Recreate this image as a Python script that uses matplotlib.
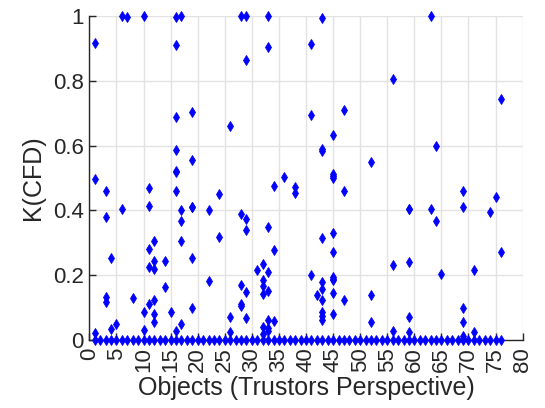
import numpy as np
import matplotlib.pyplot as plt

plt.rcParams['font.family'] = ['Liberation Sans', 'DejaVu Sans']

# objects with a non-zero K(CFD) value, paired with their values
objs = [1, 1, 1,
        3, 3, 3, 3,
        4, 4,
        5,
        6, 6,
        7,
        8,
        10, 10, 10,
        11, 11, 11, 11, 11,
        12, 12, 12, 12, 12, 12,
        14, 14,
        15,
        16, 16, 16, 16, 16, 16, 16, 16,
        17, 17, 17, 17, 17,
        19, 19, 19, 19, 19, 19,
        22, 22,
        24, 24,
        26, 26, 26,
        28, 28, 28, 28, 28,
        29, 29, 29, 29, 29, 29,
        31,
        32, 32, 32, 32, 32, 32,
        33, 33, 33, 33, 33, 33, 33, 33,
        34, 34, 34,
        36,
        38, 38,
        41, 41, 41,
        42,
        43, 43, 43, 43, 43, 43, 43, 43, 43, 43,
        45, 45, 45, 45, 45, 45, 45, 45, 45, 45, 45,
        47, 47, 47,
        52, 52, 52,
        56, 56, 56,
        59, 59, 59, 59, 59,
        63, 63,
        64, 64,
        65,
        69, 69, 69, 69, 69, 69,
        71, 71,
        74,
        75,
        76, 76]
kcfd = [0.917, 0.497, 0.023,
        0.461, 0.381, 0.133, 0.118,
        0.253, 0.034,
        0.049,
        1.0, 0.405,
        0.995,
        0.131,
        1.0, 0.086, 0.031,
        0.469, 0.413, 0.280, 0.227, 0.111,
        0.307, 0.244, 0.219, 0.125, 0.081, 0.056,
        0.243, 0.163,
        0.086,
        0.995, 0.910, 0.689, 0.585, 0.521, 0.519, 0.460, 0.029,
        1.0, 0.400, 0.367, 0.306, 0.049,
        0.702, 0.555, 0.411, 0.255, 0.099, 0.411,
        0.402, 0.182,
        0.451, 0.318,
        0.661, 0.072, 0.027,
        1.0, 0.388, 0.169, 0.111, 0.105,
        1.0, 0.863, 0.373, 0.340, 0.149, 0.069,
        0.216,
        0.235, 0.185, 0.167, 0.143, 0.040, 0.019,
        1.0, 0.904, 0.348, 0.211, 0.153, 0.063, 0.038, 0.030,
        0.474, 0.278, 0.059,
        0.502,
        0.471, 0.454,
        0.914, 0.694, 0.201,
        0.141,
        0.993, 0.589, 0.583, 0.314, 0.178, 0.158, 0.125, 0.086, 0.076, 0.062,
        0.633, 0.513, 0.505, 0.500, 0.331, 0.271, 0.196, 0.190, 0.186, 0.146, 0.081,
        0.709, 0.459, 0.125,
        0.549, 0.139, 0.055,
        0.805, 0.232, 0.030,
        0.405, 0.242, 0.071, 0.027, 0.405,
        1.0, 0.405,
        0.600, 0.366,
        0.205,
        0.459, 0.410, 0.098, 0.056, 0.012, 0.005,
        0.216, 0.027,
        0.394,
        0.442,
        0.743, 0.271]

# every object also has a zero entry
zero_objs = list(range(1, 77))
zero_vals = [0.0] * len(zero_objs)

fig = plt.figure(figsize=(5.45, 4.08), dpi=100)
ax = fig.add_axes([0.164, 0.166, 0.795, 0.7955])

ax.plot(zero_objs, zero_vals, 'd', color=(0, 0, 1), ms=5, mew=0.6, clip_on=False, zorder=3)
ax.plot(objs, kcfd, 'd', color=(0, 0, 1), ms=5, mew=0.6, clip_on=False, zorder=3)

ax.set_xlim(0, 80)
ax.set_ylim(0, 1)
ax.set_xticks(np.arange(0, 81, 5))
ax.set_yticks([0, 0.2, 0.4, 0.6, 0.8, 1])
ax.set_yticklabels(['0', '0.2', '0.4', '0.6', '0.8', '1'])

ax.grid(True, color='#e2e2e2', lw=1.0)
ax.set_axisbelow(True)
for s in ['top', 'right']:
    ax.spines[s].set_visible(False)
for s in ['left', 'bottom']:
    ax.spines[s].set_color('#262626')
    ax.spines[s].set_linewidth(1.0)

ax.tick_params(direction='in', length=5, width=1.0, colors='#262626',
               labelsize=16, pad=4)
ax.tick_params(axis='x', labelrotation=90, pad=5)

ax.set_xlabel('Objects (Trustors Perspective)', fontsize=18, color='#262626', labelpad=3)
ax.set_ylabel('K(CFD)', fontsize=18, color='#262626', labelpad=6)

fig.savefig('out.png', dpi=100)
